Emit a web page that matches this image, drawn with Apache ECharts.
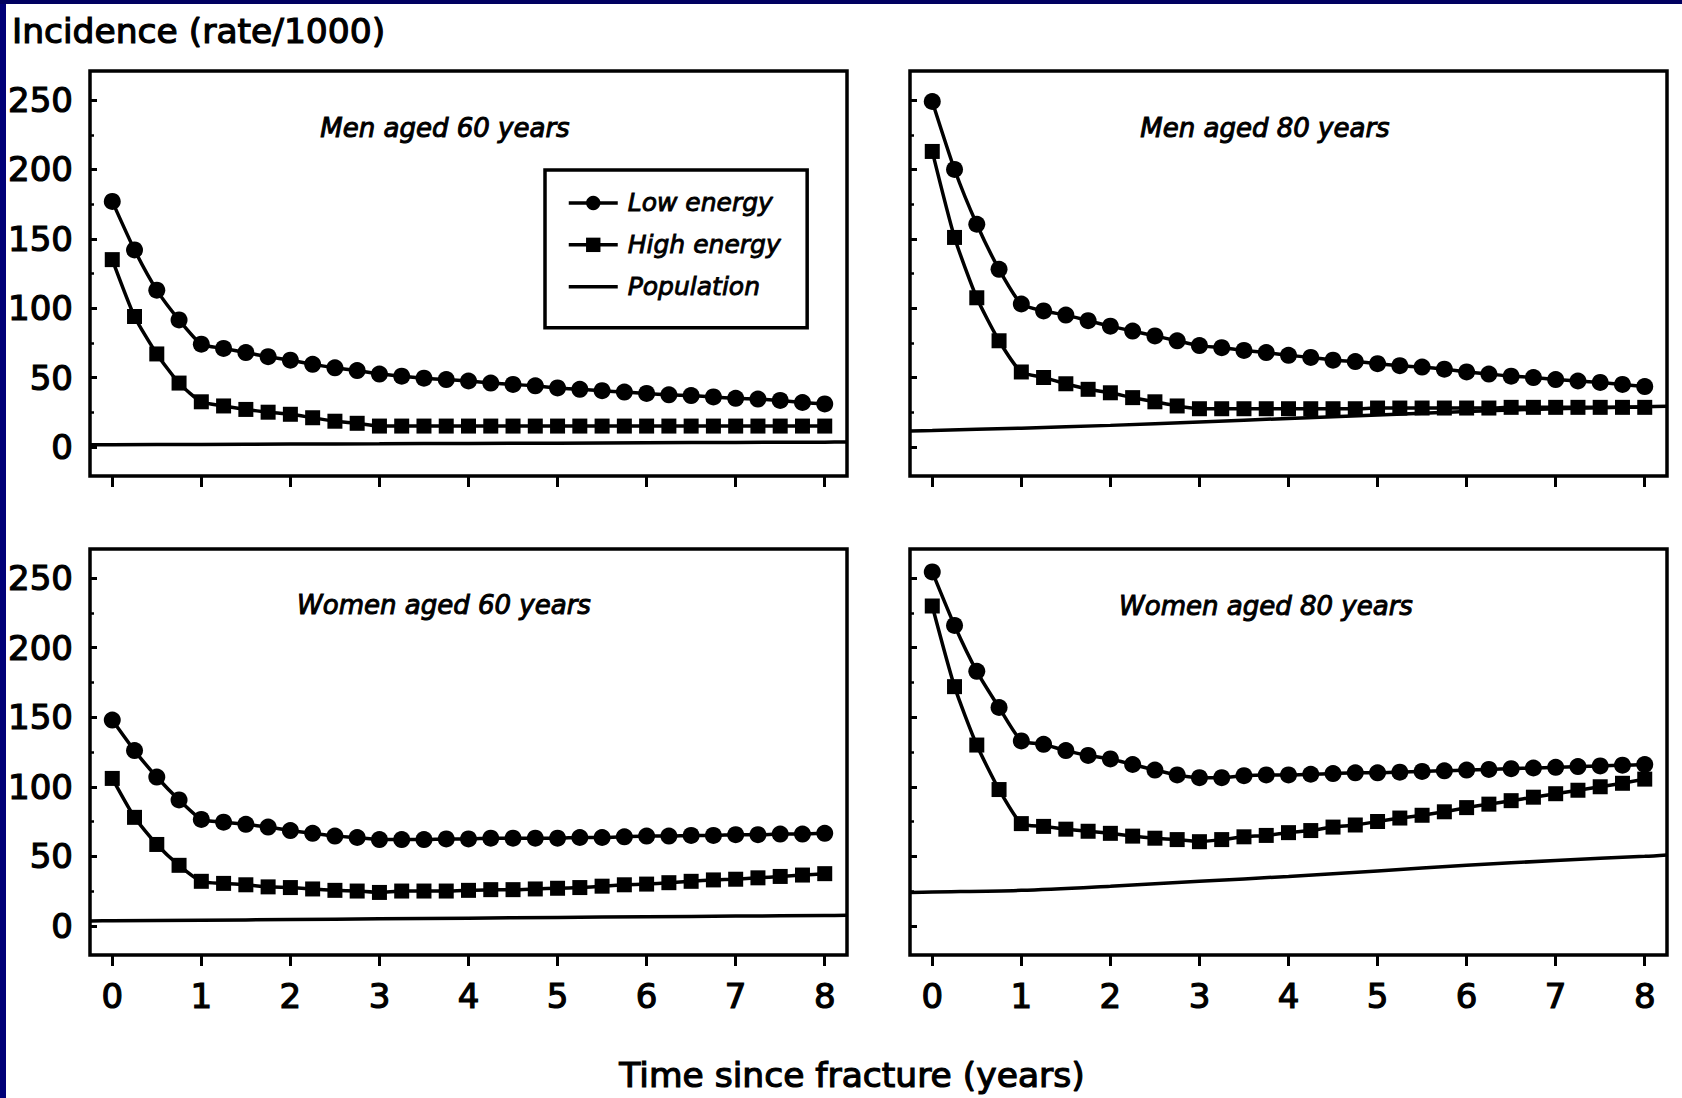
<!DOCTYPE html>
<html>
<head>
<meta charset="utf-8">
<script src="https://cdn.jsdelivr.net/npm/echarts@6/dist/echarts.min.js"></script>
<style>
  html, body { margin: 0; padding: 0; background: #fff; }
  #chart { width: 1682px; height: 1098px; }
</style>
</head>
<body>
<div id="chart"></div>
<script>
// ---- Data ----
const years = [0, 0.25, 0.5, 0.75, 1, 1.25, 1.5, 1.75, 2, 2.25, 2.5, 2.75, 3, 3.25, 3.5, 3.75, 4,
               4.25, 4.5, 4.75, 5, 5.25, 5.5, 5.75, 6, 6.25, 6.5, 6.75, 7, 7.25, 7.5, 7.75, 8];
const popYears = [-0.25, 0, 1, 2, 3, 4, 5, 6, 7, 8, 8.25];

const panelTitles = ['Men aged 60 years', 'Men aged 80 years', 'Women aged 60 years', 'Women aged 80 years'];
const seriesNames = ['Low energy', 'High energy', 'Population'];
const xTicks = [0, 1, 2, 3, 4, 5, 6, 7, 8];
const yTicks = [0, 50, 100, 150, 200, 250];
const yMinorTicks = [25, 75, 125, 175, 225];
const yAxisTitle = 'Incidence (rate/1000)';
const xAxisTitle = 'Time since fracture (years)';

const men60Low = [177, 142, 113, 91.5, 74, 71, 68, 65, 62.5, 59.5, 57, 55, 52.5, 51, 49.5, 48.5, 47.5,
                  46, 45, 44, 42.5, 41.5, 40.5, 39.5, 38.5, 37.5, 37, 36, 35, 34.5, 33.5, 32, 31];
const men60High = [135, 94, 67, 46, 32.5, 29.5, 27, 25, 23.5, 21, 18.5, 17, 15, 15, 15, 15, 15,
                   15, 15, 15, 15, 15, 15, 15, 15, 15, 15, 15, 15, 15, 15, 15, 15];
const men60Pop = [1.5, 1.6, 1.8, 2, 2.2, 2.5, 2.7, 3, 3.2, 3.4, 3.5];

const men80Low = [249, 200, 160.5, 128, 103, 98, 95, 91, 87, 83.5, 80, 76.5, 73, 71.5, 69.5, 68, 66,
                  64.5, 62.5, 61.5, 60, 58.5, 57.5, 56, 54, 52.5, 51, 50, 48.5, 47.5, 46.5, 45, 43.5];
const men80High = [213, 151, 107.5, 76.5, 54, 50, 45.5, 41.5, 39, 35.5, 32.5, 29.5, 27.5, 27.5, 27.5, 27.5, 27.5,
                   27.5, 27.5, 27.5, 28, 28, 28, 28, 28, 28, 28.5, 28.5, 28.5, 28.5, 28.5, 28.5, 28.5];
const men80Pop = [11.5, 11.8, 13.5, 15.5, 18, 20.5, 23, 25.5, 27.5, 29, 29.3];

const women60Low = [148, 126, 107, 90.5, 76.5, 74.5, 73, 71, 68.5, 66.5, 64.5, 63.5, 62, 62, 62, 62.5, 62.5,
                    63, 63, 63, 63, 63.5, 63.5, 64, 64.5, 64.5, 65, 65, 65.5, 65.5, 66, 66, 66.5];
const women60High = [106, 78, 58.5, 43.5, 32, 30.5, 29.5, 28, 27.5, 26.5, 25.5, 25, 24, 25, 25, 25, 25.5,
                     26, 26, 26.5, 27, 27.5, 28.5, 29.5, 30, 31, 32, 33, 33.5, 34.5, 35.5, 36.5, 37.5];
const women60Pop = [3.5, 3.6, 4, 4.5, 5, 5.5, 6, 6.5, 7, 7.4, 7.5];

const women80Low = [254.5, 216, 183, 157, 133, 130.5, 126, 122.5, 120, 116, 112, 108.5, 106.5, 106.5, 108, 108.5, 108.5,
                    109, 109.5, 110, 110, 110.5, 111, 111.5, 112, 112.5, 113, 113.5, 114, 114.5, 115, 115.5, 116];
const women80High = [230, 172, 130, 98, 73.5, 71.5, 69.5, 68, 66.5, 64.5, 63, 62, 60.5, 62, 64, 65, 67,
                     68.5, 71, 72.5, 75, 77.5, 79.5, 82, 85, 87.5, 90, 92.5, 95, 97.5, 100, 102.5, 105.5];
const women80Pop = [24, 24.3, 25.5, 28.5, 32, 35.5, 39.5, 43.5, 47, 50, 51];

// ---- Build options ----
const panels = [
  { low: men60Low, high: men60High, pop: men60Pop },
  { low: men80Low, high: men80High, pop: men80Pop },
  { low: women60Low, high: women60High, pop: women60Pop },
  { low: women80Low, high: women80High, pop: women80Pop }
];

const FONT = '"DejaVu Sans", "Liberation Sans", sans-serif';
const grids = [
  { left: 90, top: 71, width: 757, height: 405 },
  { left: 910, top: 71, width: 757, height: 405 },
  { left: 90, top: 549, width: 757, height: 406 },
  { left: 910, top: 549, width: 757, height: 406 }
];
const titlePos = [[445, 128], [1265, 128], [444, 605], [1266, 606]];

const pairs = (xs, ys) => xs.map((x, i) => [x, ys[i]]);

const option = {
  animation: false,
  backgroundColor: '#fff',
  grid: grids.map(g => Object.assign({
    show: true, borderColor: '#000', borderWidth: 3.5, backgroundColor: 'transparent'
  }, g)),
  xAxis: grids.map((g, i) => ({
    type: 'value', gridIndex: i, min: -0.25, max: 8.25, position: 'bottom',
    axisLine: { show: false, onZero: false },
    splitLine: { show: false },
    axisTick: { show: true, inside: false, length: 11, customValues: xTicks,
                lineStyle: { color: '#000', width: 3 } },
    axisLabel: { show: i >= 2, customValues: xTicks, margin: 24, color: '#000',
                 fontSize: 34, fontFamily: FONT, textBorderColor: '#000', textBorderWidth: 1.2 }
  })),
  yAxis: [],
  legend: {
    show: true,
    orient: 'vertical',
    left: 545, top: 170,
    data: [
      { name: seriesNames[0] },
      { name: seriesNames[1] },
      { name: seriesNames[2], itemStyle: { opacity: 0 } }
    ],
    itemWidth: 49, itemHeight: 18, itemGap: 16,
    padding: [20, 26, 28, 22],
    borderColor: '#000', borderWidth: 3.5, backgroundColor: '#fff',
    selectedMode: false,
    lineStyle: { width: 3.5 },
    textStyle: { fontSize: 25, fontStyle: 'italic', fontFamily: FONT, color: '#000',
                 padding: [0, 0, 0, 5], textBorderColor: '#000', textBorderWidth: 0.9 }
  },
  series: [],
  graphic: { elements: [] }
};

grids.forEach((g, i) => {
  option.yAxis.push({
    type: 'value', gridIndex: i, min: -21, max: 271, position: 'left',
    axisLine: { show: false, onZero: false },
    splitLine: { show: false },
    axisTick: { show: true, inside: true, length: 7, customValues: yTicks,
                lineStyle: { color: '#000', width: 3 } },
    axisLabel: { show: i % 2 === 0, customValues: yTicks, margin: 17, color: '#000',
                 fontSize: 34, fontFamily: FONT, textBorderColor: '#000', textBorderWidth: 1.2 }
  });
  option.yAxis.push({
    type: 'value', gridIndex: i, min: -21, max: 271, position: 'left',
    axisLine: { show: false, onZero: false },
    splitLine: { show: false },
    axisTick: { show: true, inside: true, length: 4, customValues: yMinorTicks,
                lineStyle: { color: '#000', width: 2.5 } },
    axisLabel: { show: false }
  });
});

panels.forEach((p, i) => {
  const common = { type: 'line', xAxisIndex: i, yAxisIndex: 2 * i, smooth: 0.2,
                   lineStyle: { color: '#000', width: 3.5 }, itemStyle: { color: '#000' },
                   emphasis: { disabled: true } };
  option.series.push(Object.assign({}, common, {
    name: seriesNames[0], symbol: 'circle', symbolSize: 17, data: pairs(years, p.low), z: 3
  }));
  option.series.push(Object.assign({}, common, {
    name: seriesNames[1], symbol: 'rect', symbolSize: 15, data: pairs(years, p.high), z: 3
  }));
  option.series.push(Object.assign({}, common, {
    name: seriesNames[2], symbol: 'none', smooth: 0.3, data: pairs(popYears, p.pop), z: 2,
    lineStyle: { color: '#000', width: 3.5 }
  }));
  option.graphic.elements.push({
    type: 'text', x: titlePos[i][0], y: titlePos[i][1],
    style: { text: panelTitles[i], fill: '#000', font: 'italic 26px ' + FONT,
             align: 'center', verticalAlign: 'middle', stroke: '#000', lineWidth: 1 }
  });
});

option.graphic.elements.push({
  type: 'text', x: 12, y: 31,
  style: { text: yAxisTitle, fill: '#000', font: '34.5px ' + FONT, align: 'left', verticalAlign: 'middle',
           stroke: '#000', lineWidth: 1.2 }
});
option.graphic.elements.push({
  type: 'text', x: 852, y: 1075,
  style: { text: xAxisTitle, fill: '#000', font: '34.5px ' + FONT, align: 'center', verticalAlign: 'middle',
           stroke: '#000', lineWidth: 1.2 }
});
// navy frame strips (left and top)
option.graphic.elements.push({
  type: 'rect', z: 200, shape: { x: 0, y: 0, width: 6, height: 1098 }, style: { fill: '#000078' }
});
option.graphic.elements.push({
  type: 'rect', z: 200, shape: { x: 0, y: 0, width: 1682, height: 4 }, style: { fill: '#000060' }
});

const chart = echarts.init(document.getElementById('chart'), null, { renderer: 'svg' });
chart.setOption(option);
</script>
</body>
</html>
